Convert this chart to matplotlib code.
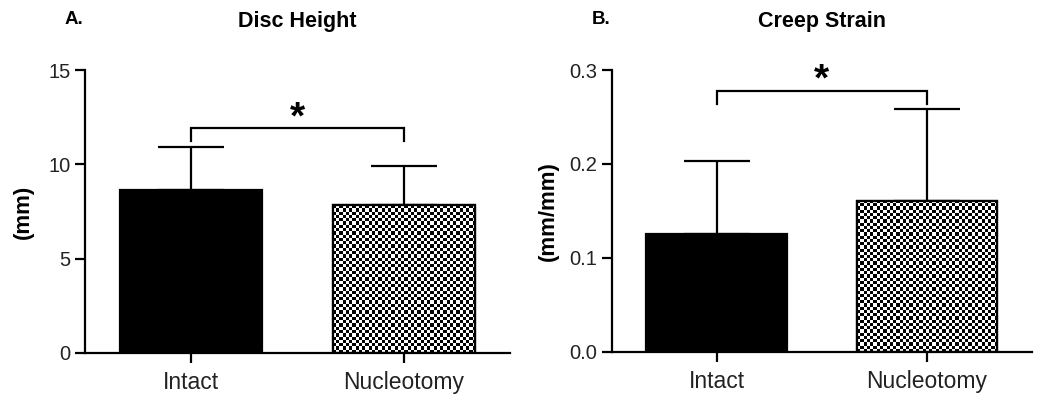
import matplotlib.pyplot as plt
import numpy as np

plt.rcParams['font.family'] = ['Liberation Sans', 'DejaVu Sans']

# data (mean bar + upper SD)
groups = ['Intact', 'Nucleotomy']
disc_mean = [8.64, 7.83]
disc_err = [2.26, 2.08]
creep_mean = [0.125, 0.161]
creep_err = [0.078, 0.097]

# significance brackets: (bar height, leg bottom, star height)
disc_sig = (11.9, 11.23, 12.45)
creep_sig = (0.278, 0.264, 0.289)

fig = plt.figure(figsize=(10.5, 4.01), dpi=100)

BAR_W = 0.67
LW = 1.6


def checker_bar(ax, xpos, height, bar):
    # checkerboard fill clipped to the bar, cell size ~3.2 px
    p0 = ax.transData.transform((0, 0))
    p1 = ax.transData.transform((1, 1))
    ppx = p1[0] - p0[0]
    ppy = p1[1] - p0[1]
    ncol = max(2, int(round(BAR_W * ppx / 3.25)))
    nrow = max(2, int(round(height * ppy / 3.25)))
    i, j = np.indices((nrow, ncol))
    board = ((i + j) % 2).astype(float)
    im = ax.imshow(board, cmap='gray', vmin=0, vmax=1, aspect='auto',
                   extent=(xpos - BAR_W / 2, xpos + BAR_W / 2, 0, height),
                   interpolation='nearest', zorder=2.5)
    im.set_clip_path(bar)


def panel(rect, means, errs, ymax, yticks, ytlabels, ylabel, title, letter, letter_x, sig, ylab_x):
    ax = fig.add_axes(rect)
    x = np.arange(len(groups))
    ax.set_xlim(-0.5, 1.5)
    ax.set_ylim(0, ymax)

    ax.errorbar(x, means, yerr=[np.zeros(len(means)), errs], fmt='none',
                ecolor='black', elinewidth=LW, capsize=24, capthick=LW, zorder=1)
    bars = ax.bar(x, means, width=BAR_W, color=['black', 'white'],
                  edgecolor='black', linewidth=LW, zorder=2)
    checker_bar(ax, x[1], means[1], bars[1])
    ax.bar(x[1], means[1], width=BAR_W, fill=False, edgecolor='black',
           linewidth=LW, zorder=3)

    ax.set_xlim(-0.5, 1.5)
    ax.set_ylim(0, ymax)

    # bracket and star
    top, leg, star = sig
    ax.plot([0, 0, 1, 1], [leg, top, top, leg], color='black', lw=LW,
            clip_on=False, solid_joinstyle='miter')
    ax.text(0.5, star, '*', ha='center', va='center', fontsize=28,
            fontweight='bold')

    for s in ['top', 'right']:
        ax.spines[s].set_visible(False)
    for s in ['left', 'bottom']:
        ax.spines[s].set_linewidth(LW)
    ax.tick_params(direction='out', length=7, width=LW, color='black')
    ax.set_yticks(yticks)
    ax.set_yticklabels(ytlabels, fontsize=14.5, color='#222222')
    ax.set_xticks(x)
    ax.set_xticklabels(groups, fontsize=16.5, color='#222222')
    ax.tick_params(axis='x', pad=6)
    ax.set_ylabel(ylabel, fontsize=16, fontweight='bold')
    ax.yaxis.set_label_coords(ylab_x, 0.5)
    ax.set_title(title, fontsize=15.5, fontweight='bold', pad=31)
    fig.text(letter_x, 1 - 19 / 401, letter, va='center', fontsize=13.5,
             fontweight='bold')
    return ax


panel([85 / 1050, 48 / 401, 425 / 1050, 283 / 401], disc_mean, disc_err, 15,
      [0, 5, 10, 15], ['0', '5', '10', '15'], '(mm)', 'Disc Height', 'A.',
      65 / 1050, disc_sig, -0.12)
panel([611.7 / 1050, 49.3 / 401, 420.3 / 1050, 281.7 / 401], creep_mean, creep_err, 0.3,
      [0.0, 0.1, 0.2, 0.3], ['0.0', '0.1', '0.2', '0.3'], '(mm/mm)', 'Creep Strain', 'B.',
      592 / 1050, creep_sig, -0.125)

fig.savefig('out.png', dpi=100)
